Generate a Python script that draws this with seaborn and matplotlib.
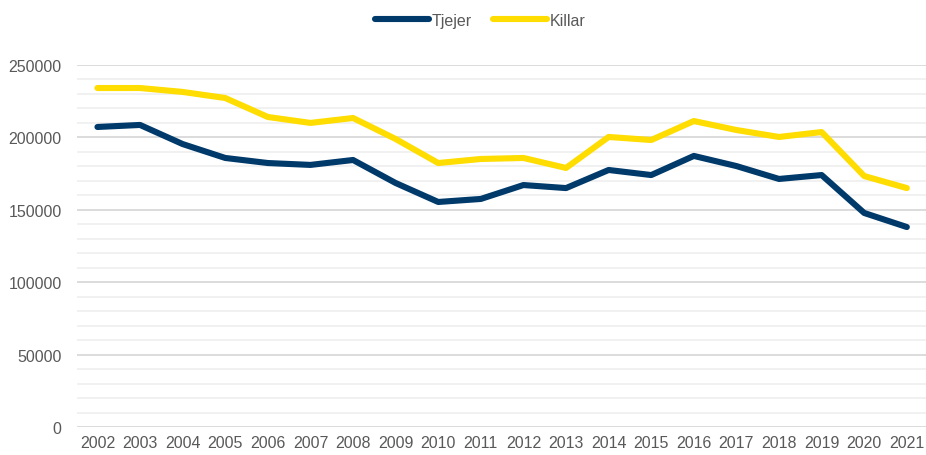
import pandas as pd
import matplotlib.pyplot as plt
import seaborn as sns
from matplotlib.ticker import MultipleLocator

years = list(range(2002, 2022))
tjejer = [207200, 208600, 195400, 185800, 182300, 181000, 184400, 168500, 155400, 157500,
          167100, 165000, 177500, 174000, 187200, 180200, 171300, 174000, 147800, 138100]
killar = [234100, 234100, 231400, 227200, 214100, 210000, 213400, 198900, 182300, 185100,
          185800, 178900, 200300, 198200, 211300, 205100, 200300, 203700, 173300, 165000]

df = pd.DataFrame({"Year": years * 2,
                   "Antal": tjejer + killar,
                   "Kön": ["Tjejer"] * len(years) + ["Killar"] * len(years)})
df["pos"] = df["Year"] - years[0]

sns.set_style("white")
plt.rcParams['font.family'] = ['Liberation Sans', 'DejaVu Sans']

fig = plt.figure(figsize=(9.26, 4.56), dpi=100)
ax = fig.add_axes([77 / 926, 1 - 428 / 456, 1 - 77 / 926, (428 - 66) / 456])

palette = {"Tjejer": "#003A6B", "Killar": "#FFDD00"}
sns.lineplot(data=df, x="pos", y="Antal", hue="Kön", palette=palette, linewidth=4.4,
             ax=ax, solid_capstyle="round", solid_joinstyle="round", legend=True)

ax.set_ylim(0, 250000)
ax.set_xlim(-0.48, 19.45)
ax.yaxis.set_major_locator(MultipleLocator(50000))
ax.yaxis.set_minor_locator(MultipleLocator(10000))
ax.set_xticks(range(len(years)))
ax.set_xticklabels([str(y) for y in years])
ax.grid(which="major", axis="y", color="#D9D9D9", linewidth=1.3)
ax.grid(which="minor", axis="y", color="#F0F0F0", linewidth=1.3)
ax.set_axisbelow(True)
for s in ax.spines.values():
    s.set_visible(False)
ax.tick_params(axis="both", which="both", length=0, labelsize=11.5, labelcolor="#595959")
ax.tick_params(axis="y", pad=11)
ax.tick_params(axis="x", pad=6)
ax.set_xlabel("")
ax.set_ylabel("")

handles, labels = ax.get_legend_handles_labels()
ax.legend(handles, labels, loc="center", bbox_to_anchor=(0.4747, 1.124),
          ncol=2, frameon=False, fontsize=11.5, labelcolor="#595959", handlelength=3.4,
          handletextpad=0.15, columnspacing=1.3)

fig.savefig("out.png", dpi=100)
